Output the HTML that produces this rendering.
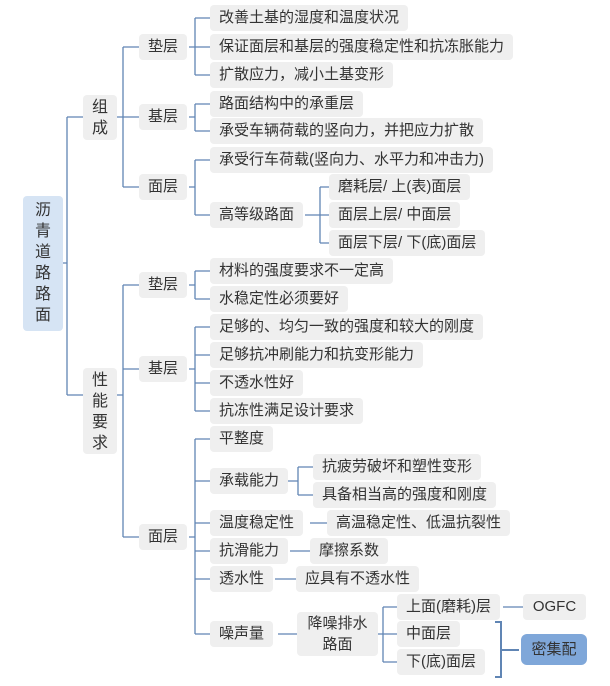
<!DOCTYPE html>
<html><head><meta charset="utf-8"><style>
body{margin:0;width:610px;height:686px;background:#fff;position:relative;overflow:hidden;font-family:"Liberation Sans","Noto Sans CJK SC",sans-serif;}
.b{position:absolute;background:#efefef;border-radius:4px;font-size:15px;color:#333;height:26px;line-height:26px;padding:0 9px;white-space:nowrap;}
.v{position:absolute;background:#efefef;border-radius:4px;font-size:16px;color:#333;text-align:center;line-height:21px;}
svg{position:absolute;left:0;top:0}
</style></head><body>
<svg width="610" height="686" fill="none" stroke="#6085b4" stroke-width="1.3">
<path d="M63 263H67M67 117V395M67 117H83M67 395H83"/>
<path d="M117 117H123M123 47V187M123 47H139M123 117H139M123 187H139"/>
<path d="M189 47H195M195 18V75M195 18H210M195 47H210M195 75H210"/>
<path d="M189 117H195M195 104V131M195 104H210M195 131H210"/>
<path d="M189 187H195M195 160V215M195 160H210M195 215H210"/>
<path d="M305 215H320M320 187V243M320 187H329M320 215H329M320 243H329"/>
<path d="M117 395H123M123 285V537M123 285H139M123 369H139M123 537H139"/>
<path d="M189 285H195M195 271V299M195 271H210M195 299H210"/>
<path d="M189 369H195M195 327V411M195 327H210M195 355H210M195 383H210M195 411H210"/>
<path d="M189 537H195M195 439V634M195 439H210M195 481H210M195 523H210M195 551H210M195 579H210M195 634H210"/>
<path d="M288 481H298M298 467V495M298 467H313M298 495H313"/>
<path d="M310 523H327M290 551H310M275 579H296M278 634H297"/>
<path d="M378 634H383M383 607V662M383 607H397M383 634H397M383 662H397"/>
<path d="M503 607H523"/>
<path d="M495 622H501V677H495M501 650H519" stroke-width="2"/>
</svg>
<div class="v" style="left:23px;top:196px;width:40px;height:135px;background:#d6e4f4;padding-top:4px;box-sizing:border-box;">沥<br>青<br>道<br>路<br>路<br>面</div>
<div class="v" style="left:83px;top:95px;width:34px;height:45px;padding-top:2px;box-sizing:border-box;">组<br>成</div>
<div class="v" style="left:83px;top:368px;width:34px;height:86px;padding-top:2px;box-sizing:border-box;">性<br>能<br>要<br>求</div>
<div class="b" style="left:139px;top:34px">垫层</div>
<div class="b" style="left:139px;top:104px">基层</div>
<div class="b" style="left:139px;top:174px">面层</div>
<div class="b" style="left:210px;top:5px">改善土基的湿度和温度状况</div>
<div class="b" style="left:210px;top:34px">保证面层和基层的强度稳定性和抗冻胀能力</div>
<div class="b" style="left:210px;top:62px">扩散应力，减小土基变形</div>
<div class="b" style="left:210px;top:91px">路面结构中的承重层</div>
<div class="b" style="left:210px;top:118px">承受车辆荷载的竖向力，并把应力扩散</div>
<div class="b" style="left:210px;top:147px">承受行车荷载(竖向力、水平力和冲击力)</div>
<div class="b" style="left:210px;top:202px">高等级路面</div>
<div class="b" style="left:329px;top:174px">磨耗层/ 上(表)面层</div>
<div class="b" style="left:329px;top:202px">面层上层/ 中面层</div>
<div class="b" style="left:329px;top:230px">面层下层/ 下(底)面层</div>
<div class="b" style="left:139px;top:272px">垫层</div>
<div class="b" style="left:139px;top:356px">基层</div>
<div class="b" style="left:139px;top:524px">面层</div>
<div class="b" style="left:210px;top:258px">材料的强度要求不一定高</div>
<div class="b" style="left:210px;top:286px">水稳定性必须要好</div>
<div class="b" style="left:210px;top:314px">足够的、均匀一致的强度和较大的刚度</div>
<div class="b" style="left:210px;top:342px">足够抗冲刷能力和抗变形能力</div>
<div class="b" style="left:210px;top:370px">不透水性好</div>
<div class="b" style="left:210px;top:398px">抗冻性满足设计要求</div>
<div class="b" style="left:210px;top:426px">平整度</div>
<div class="b" style="left:210px;top:468px">承载能力</div>
<div class="b" style="left:210px;top:510px">温度稳定性</div>
<div class="b" style="left:210px;top:538px">抗滑能力</div>
<div class="b" style="left:210px;top:566px">透水性</div>
<div class="b" style="left:210px;top:621px">噪声量</div>
<div class="b" style="left:313px;top:454px">抗疲劳破坏和塑性变形</div>
<div class="b" style="left:313px;top:482px">具备相当高的强度和刚度</div>
<div class="b" style="left:327px;top:510px">高温稳定性、低温抗裂性</div>
<div class="b" style="left:310px;top:538px">摩擦系数</div>
<div class="b" style="left:296px;top:566px">应具有不透水性</div>
<div class="v" style="left:297px;top:612px;width:81px;height:44px;font-size:15px;padding-top:1px;box-sizing:border-box;">降噪排水<br>路面</div>
<div class="b" style="left:397px;top:594px">上面(磨耗)层</div>
<div class="b" style="left:397px;top:621px">中面层</div>
<div class="b" style="left:397px;top:649px">下(底)面层</div>
<div class="b" style="left:523px;top:594px;width:45px;text-align:center">OGFC</div>
<div class="b" style="left:521px;top:634px;width:48px;height:31px;line-height:31px;background:#7fa7d9;border-radius:6px;text-align:center">密集配</div>
</body></html>
